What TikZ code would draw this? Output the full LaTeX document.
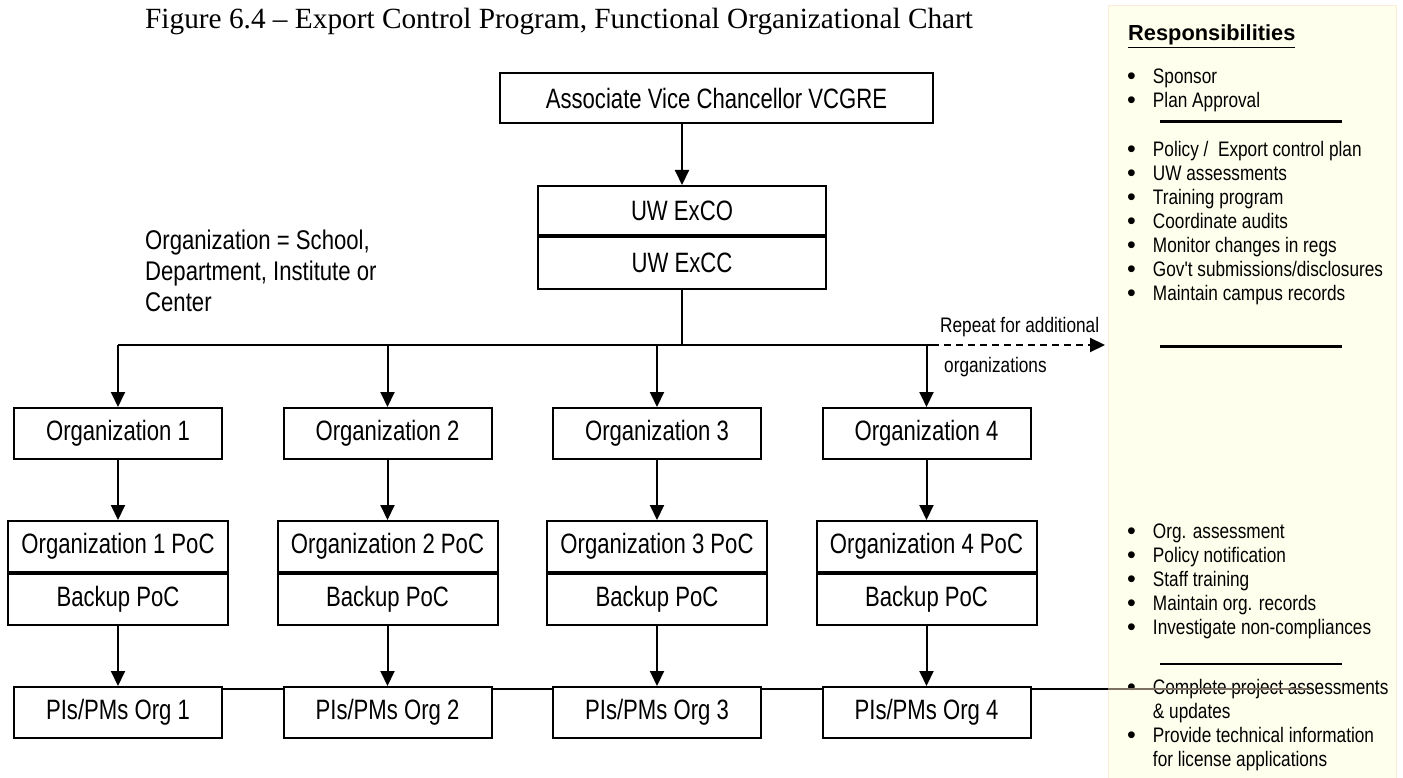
\documentclass[tikz,border=0pt]{standalone}
\usepackage{fontspec}
\setmainfont{Liberation Serif}
\newfontfamily\narrowsans[FakeStretch=0.79]{Liberation Sans}
\newfontfamily\notesans[FakeStretch=0.82]{Liberation Sans}
\newfontfamily\plainsans{Liberation Sans}
\newcommand\bul{{\plainsans\fontsize{25}{24}\selectfont\raisebox{-1pt}{•}}}
\usetikzlibrary{arrows.meta}
\definecolor{panelfill}{RGB}{255,255,238}
\definecolor{panelline}{RGB}{250,234,215}
\definecolor{greyline}{RGB}{125,112,100}
\begin{document}
\begin{tikzpicture}[x=1pt,y=-1pt,
  box/.style={draw, line width=2pt, inner sep=0pt, font=\narrowsans\fontsize{28}{31}\selectfont},
  orgbox/.style={box, minimum width=208pt, minimum height=51pt},
  pocbox/.style={box, minimum width=220pt, minimum height=51pt},
  conn/.style={line width=2pt},
  arr/.style={conn, -{Triangle[length=15pt,width=14pt]}},
  note/.style={inner sep=0pt, font=\notesans\fontsize{21}{24}\selectfont},
  sepline/.style={line width=3pt},
]
\useasboundingbox (0,0) rectangle (1403,778);

% title
\node[anchor=base west, inner sep=0pt, font=\fontsize{29.3}{32}\selectfont] (title) at (145,29)
  {Figure 6.4 – Export Control Program, Functional Organizational Chart};

% right panel
\fill[panelfill] (1108,6) rectangle (1396,778);
\draw[panelline, line width=1pt] (1108,778) -- (1108,6) -- (1396,6) -- (1396,778);

% top boxes
\node[box, minimum width=433pt, minimum height=50pt] (avc) at (716.5,98.5) {Associate Vice Chancellor VCGRE};
\node[box, minimum width=288pt, minimum height=49pt] (exco) at (682,210.5) {UW ExCO};
\node[box, minimum width=288pt, minimum height=52pt, anchor=north] (excc) at (exco.south) {UW ExCC};
\draw[arr] (avc.south -| exco.north) -- (exco.north);

\coordinate (bus) at (682,345);
\coordinate (busend) at (932,345);
\coordinate (repeat) at (1105,345);
\coordinate (pl) at (0,689);
\coordinate (panedge) at (1108,689);
\coordinate (greyend) at (1310,689);
\draw[conn] (excc.south) -- (bus);

\node[anchor=north west, inner sep=0pt, align=left, font=\notesans\fontsize{27}{31}\selectfont] (orgdef) at (145,230)
  {Organization = School,\\Department, Institute or\\Center};

\foreach \i/\x in {1/118,2/387.5,3/657,4/926.5}{
  \node[orgbox] (org\i) at (\x,433.5) {Organization \i};
  \node[pocbox] (poc\i) at (\x,546.5) {Organization \i{} PoC};
  \node[pocbox, anchor=north] (bak\i) at (poc\i.south) {Backup PoC};
  \node[orgbox] (pis\i) at (\x,712.5) {PIs/PMs Org \i};
  \draw[arr] (org\i.north |- bus) -- (org\i.north);
  \draw[arr] (org\i.south) -- (poc\i.north);
  \draw[arr] (bak\i.south) -- (pis\i.north);
}
\draw[conn] (org1.north |- bus) -- (busend);
\draw[conn, dash pattern=on 7pt off 5pt, -{Triangle[length=15pt,width=14pt]}] (busend) -- (repeat);
\node[note, anchor=base west] (rep1) at (940,332) {Repeat for additional};
\node[note, anchor=base west] (rep2) at (944,372) {organizations};

\draw[conn] (pis1.east |- pl) -- (pis2.west |- pl);
\draw[conn] (pis2.east |- pl) -- (pis3.west |- pl);
\draw[conn] (pis3.east |- pl) -- (pis4.west |- pl);
\draw[conn] (pis4.east |- pl) -- (panedge);

% panel contents
\node[anchor=base west, inner sep=0pt, font=\plainsans\bfseries\fontsize{21.8}{24}\selectfont] (resp) at (1128,41) {\underline{Responsibilities}};
\node[note, anchor=base west] (l1) at (1127,84) {\begin{tabular}[t]{@{}l@{\hspace{17pt}}l@{}}\bul&Sponsor\\\bul&Plan Approval\end{tabular}};
\draw[sepline] (1160,122) -- (1342,122);
\node[note, anchor=base west] (l2) at (1127,157) {\begin{tabular}[t]{@{}l@{\hspace{17pt}}l@{}}\bul&Policy /\ \ Export control plan\\\bul&UW assessments\\\bul&Training program\\\bul&Coordinate audits\\\bul&Monitor changes in regs\\\bul&Gov't submissions/disclosures\\\bul&Maintain campus records\end{tabular}};
\draw[sepline] (1160,346) -- (1342,346);
\node[note, anchor=base west] (l3) at (1127,538) {\begin{tabular}[t]{@{}l@{\hspace{17pt}}l@{}}\bul&Org. assessment\\\bul&Policy notification\\\bul&Staff training\\\bul&Maintain org. records\\\bul&Investigate non-compliances\end{tabular}};
\draw[line width=2pt] (1160,664) -- (1342,664);
\node[note, anchor=base west] (l4) at (1127,694) {\begin{tabular}[t]{@{}l@{\hspace{17pt}}l@{}}\bul&Complete project assessments\\&\& updates\\\bul&Provide technical information\\&for license applications\end{tabular}};
\draw[greyline, line width=2pt] (panedge) -- (greyend);
\end{tikzpicture}
\end{document}
